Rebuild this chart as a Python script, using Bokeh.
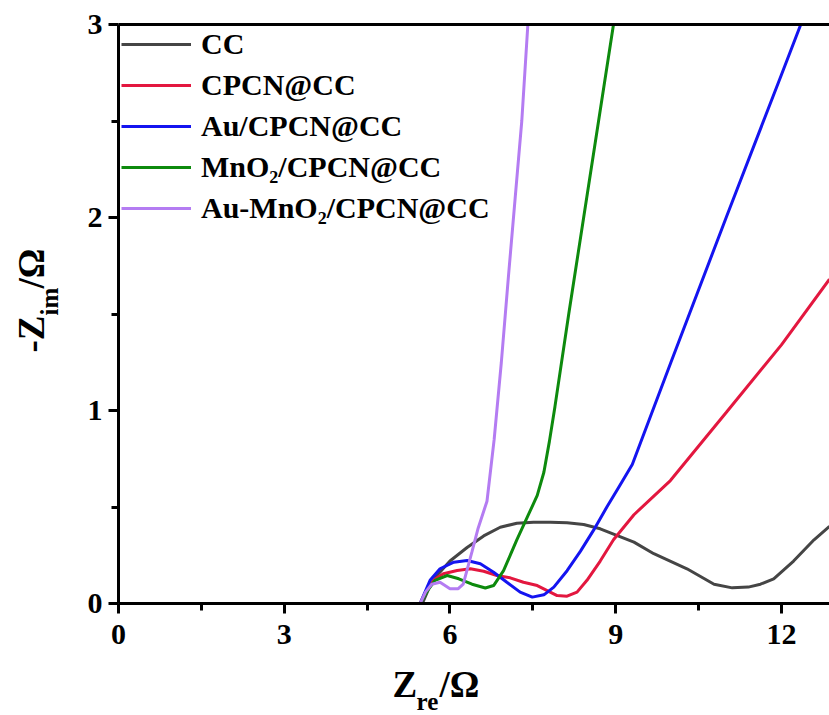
import math
from bokeh.plotting import figure
from bokeh.layouts import row, column
from bokeh.models import (Range1d, FixedTicker, LinearAxis, Legend, LegendItem, Label)
from bokeh.embed import file_html
from bokeh.resources import INLINE

# ---- data ----
cc_x = [5.50, 5.62, 5.78, 6.00, 6.31, 6.61, 6.91, 7.21, 7.51, 7.82, 8.12, 8.42, 8.72, 9.03, 9.33,
        9.69, 10.29, 10.78, 11.11, 11.40, 11.62, 11.86, 12.22, 12.59, 12.87]
cc_y = [0.00, 0.08, 0.15, 0.22, 0.29, 0.35, 0.395, 0.416, 0.421, 0.421, 0.418, 0.409, 0.387, 0.352, 0.318,
        0.258, 0.18, 0.10, 0.081, 0.085, 0.10, 0.128, 0.22, 0.33, 0.40]

cpcn_x = [5.46, 5.58, 5.70, 5.88, 6.13, 6.37, 6.61, 6.85, 7.09, 7.33, 7.58, 7.76, 7.94, 8.12, 8.30,
          8.48, 8.72, 8.96, 9.33, 9.99, 11.0, 12.0, 12.87]
cpcn_y = [0.00, 0.07, 0.12, 0.154, 0.171, 0.18, 0.167, 0.145, 0.133, 0.11, 0.093, 0.067, 0.041, 0.038, 0.059,
          0.12, 0.22, 0.33, 0.46, 0.637, 0.99, 1.34, 1.68]

au_x = [5.46, 5.55, 5.64, 5.82, 6.07, 6.31, 6.55, 6.79, 7.03, 7.27, 7.49, 7.70, 7.88, 8.12, 8.36,
        8.60, 8.84, 9.05, 9.30, 10.0, 11.0, 12.0, 12.35]
au_y = [0.00, 0.06, 0.12, 0.18, 0.214, 0.223, 0.206, 0.162, 0.11, 0.059, 0.033, 0.045, 0.085, 0.17, 0.27,
        0.38, 0.50, 0.60, 0.72, 1.25, 2.00, 2.74, 3.00]

mno2_x = [5.46, 5.60, 5.73, 5.95, 6.16, 6.40, 6.64, 6.79, 6.97, 7.21, 7.42, 7.58, 7.70, 7.80, 7.90,
          8.15, 8.42, 8.69, 8.96]
mno2_y = [0.00, 0.07, 0.12, 0.145, 0.128, 0.10, 0.08, 0.093, 0.17, 0.33, 0.46, 0.56, 0.68, 0.84, 1.02,
          1.50, 2.00, 2.50, 3.00]

aumno2_x = [5.46, 5.56, 5.67, 5.82, 6.00, 6.15, 6.24, 6.40, 6.51, 6.67, 6.80, 6.93, 7.06, 7.18, 7.30, 7.41]
aumno2_y = [0.00, 0.06, 0.10, 0.11, 0.077, 0.077, 0.10, 0.27, 0.39, 0.53, 0.85, 1.25, 1.70, 2.10, 2.50, 3.00]

series_names = ["CC", "CPCN@CC", "Au/CPCN@CC", "MnO\u2082/CPCN@CC", "Au-MnO\u2082/CPCN@CC"]
series_colors = ["#454545", "#e3173f", "#1414f0", "#0d8a0d", "#b47cf2"]

x_ticks = [0, 3, 6, 9, 12]
x_minor = [1.5, 4.5, 7.5, 10.5]
y_ticks = [0, 1, 2, 3]
y_minor = [0.5, 1.5, 2.5]

FONT = "Liberation Serif"
YLAB_W = 80
MAIN_H = 660
FRAME_LEFT = 118

# ---------------- main plot ----------------
p = figure(width=829 - YLAB_W, height=MAIN_H, output_backend="svg", toolbar_location=None,
           x_range=Range1d(0, 12.87), y_range=Range1d(0, 3),
           min_border_left=FRAME_LEFT - YLAB_W, min_border_right=0, min_border_top=24,
           min_border_bottom=MAIN_H - 603)
p.background_fill_color = "white"
p.border_fill_color = "white"
p.outline_line_color = None
p.xgrid.visible = False
p.ygrid.visible = False

for ax, ticks, minor in ((p.xaxis[0], x_ticks, x_minor), (p.yaxis[0], y_ticks, y_minor)):
    ax.ticker = FixedTicker(ticks=ticks, minor_ticks=minor)
    ax.axis_line_width = 3
    ax.axis_line_color = "black"
    ax.major_tick_line_width = 3
    ax.minor_tick_line_width = 3
    ax.major_tick_out = 10
    ax.major_tick_in = 0
    ax.minor_tick_out = 7
    ax.minor_tick_in = 0
    ax.major_label_text_font = FONT
    ax.major_label_text_font_style = "bold"
    ax.major_label_text_font_size = "30px"
    ax.major_label_text_color = "black"
p.xaxis[0].major_label_standoff = 11
p.yaxis[0].major_label_standoff = 6

top = LinearAxis(axis_line_width=3, axis_line_color="black",
                 major_tick_out=0, major_tick_in=0, minor_tick_out=0, minor_tick_in=0,
                 major_label_text_font_size="0px", major_label_standoff=0)
top.ticker = FixedTicker(ticks=[])
p.add_layout(top, "above")

xs = [cc_x, cpcn_x, au_x, mno2_x, aumno2_x]
ys = [cc_y, cpcn_y, au_y, mno2_y, aumno2_y]
items = []
for x, y, name, col in zip(xs, ys, series_names, series_colors):
    r = p.line(x, y, line_color=col, line_width=3)
    items.append(LegendItem(label=name, renderers=[r]))

legend = Legend(items=items, location="top_left", margin=3, padding=8, spacing=7,
                glyph_width=70, glyph_height=34, label_height=34, label_standoff=10,
                label_text_font=FONT, label_text_font_style="bold", label_text_font_size="30px",
                label_text_color="black",
                background_fill_alpha=0, border_line_color=None)
p.add_layout(legend)


# ---------------- axis-title strips (text only) ----------------
def strip(w, h):
    f = figure(width=w, height=h, output_backend="svg", toolbar_location=None,
               x_range=Range1d(0, 1), y_range=Range1d(0, 1),
               x_axis_type=None, y_axis_type=None, min_border=0)
    f.outline_line_color = None
    f.background_fill_color = "white"
    f.border_fill_color = "white"
    f.xgrid.visible = False
    f.ygrid.visible = False
    return f


def lab(f, text, x, y, size, angle=0):
    f.add_layout(Label(x=x, y=y, x_units="screen", y_units="screen", text=text,
                       text_font=FONT, text_font_style="bold",
                       text_font_size=size, text_align="left", text_baseline="middle",
                       angle=angle, text_color="black"))


# y title (strip at page x 0..YLAB_W)
ylab = strip(YLAB_W, 715)
lab(ylab, "-Z", 31, 715 - 352, "37px", math.pi / 2)
lab(ylab, "im", 49, 715 - 315, "25px", math.pi / 2)
lab(ylab, "/\u03a9", 31, 715 - 288, "37px", math.pi / 2)

# x title (strip frame is aligned with the main frame, left edge at page x FRAME_LEFT)
xlab = strip(829 - YLAB_W, 715 - MAIN_H)
lab(xlab, "Z", 392 - FRAME_LEFT, 715 - 684, "37px")
lab(xlab, "re", 416 - FRAME_LEFT, 715 - 701, "25px")
lab(xlab, "/\u03a9", 439 - FRAME_LEFT, 715 - 684, "37px")

layout = row(ylab, column(p, xlab, spacing=0), spacing=0)

open("out.html", "w").write(file_html(layout, INLINE))
